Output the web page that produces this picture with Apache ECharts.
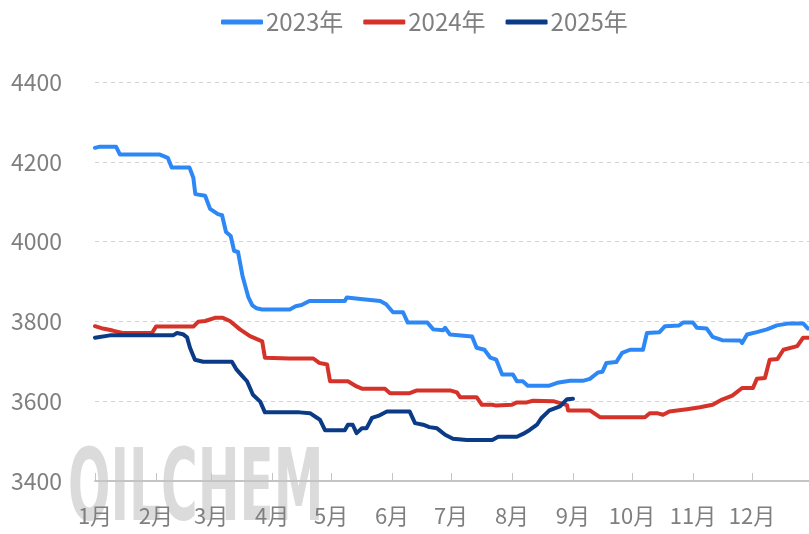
<!DOCTYPE html>
<html>
<head>
<meta charset="utf-8">
<script src="https://cdn.jsdelivr.net/npm/echarts@6/dist/echarts.min.js"></script>
<style>
  html, body { margin: 0; padding: 0; background: #fff; }
  #chart { width: 809px; height: 534px; }
</style>
</head>
<body>
<div id="chart"></div>
<script>
// 月份刻度（按年内天数）
const monthStarts = [0, 31, 59, 90, 120, 151, 181, 212, 243, 273, 304, 334];
const monthLabels = ['1月', '2月', '3月', '4月', '5月', '6月', '7月', '8月', '9月', '10月', '11月', '12月'];
const yearNames = ['2023年', '2024年', '2025年'];

// [年内天数, 价格]
const data2023 = [
  [0, 4235], [2.5, 4238], [10.7, 4238], [12.7, 4218], [33, 4218], [37, 4210], [39, 4186], [48, 4186],
  [50, 4160], [51, 4119], [56, 4115], [58.5, 4082], [62.5, 4069], [64.6, 4066], [66.6, 4024], [69, 4014],
  [70.7, 3977], [72.7, 3974], [75, 3914], [78, 3860], [80, 3840], [82, 3833], [85, 3830], [99, 3830],
  [102, 3838], [105, 3841], [109, 3851], [127, 3851], [128, 3860], [135, 3856], [145, 3851], [148, 3843],
  [151.5, 3823], [156.6, 3823], [159, 3797], [169, 3797], [172, 3780], [177, 3778], [178, 3784], [180.5, 3767],
  [191.7, 3762], [194, 3734], [198, 3729], [201, 3709], [204, 3704], [207, 3667], [212.5, 3667], [214.5, 3650],
  [217.5, 3650], [220, 3639], [231, 3639], [235, 3646], [241.5, 3651], [248, 3651], [249, 3648], [251.6, 3656],
  [255.7, 3672], [258, 3674], [260, 3696], [265, 3698], [268, 3721], [272, 3729], [278.6, 3729], [280.6, 3771],
  [287, 3773], [289.8, 3788], [297, 3790], [299, 3797], [304, 3797], [306, 3784], [311, 3782], [314, 3761],
  [318.8, 3753], [328, 3752], [329, 3746], [331.5, 3767], [336.5, 3773], [341.6, 3780], [346.7, 3790],
  [353, 3795], [360, 3795], [362.5, 3782]
];
const data2024 = [
  [0, 3788], [4, 3782], [9, 3777], [14, 3771], [29, 3771], [31, 3787], [50, 3787], [52.4, 3799],
  [56, 3801], [61, 3809], [65, 3809], [68.6, 3801], [73.7, 3780], [78.8, 3763], [85, 3750], [86.4, 3709],
  [99, 3707], [111, 3707], [114, 3696], [118, 3692], [119.5, 3650], [128.6, 3650], [133, 3637], [136, 3631],
  [147.4, 3631], [150, 3620], [160, 3620], [163.7, 3627], [180.5, 3627], [184, 3622], [185.6, 3610], [194, 3610],
  [196.7, 3591], [202, 3591], [204, 3589], [212, 3591], [214.5, 3597], [219.5, 3597], [222.7, 3601], [233, 3600],
  [236.4, 3595], [240, 3590], [240.5, 3577], [251.6, 3577], [256.7, 3560], [279.6, 3560], [282, 3570],
  [285.7, 3570], [288.8, 3566], [292, 3574], [301, 3580], [307.6, 3585], [314, 3591], [318.8, 3604],
  [324, 3614], [329, 3633], [334.5, 3633], [336.5, 3656], [340.6, 3658], [343, 3704], [347, 3706],
  [350, 3729], [357, 3738], [360, 3759], [363, 3759]
];
const data2025 = [
  [0, 3759], [7.6, 3765], [39.7, 3765], [41.7, 3771], [44.7, 3768], [46.8, 3760], [48.3, 3734], [50.8, 3704],
  [55, 3699], [69.6, 3699], [72, 3679], [74.7, 3664], [77.3, 3650], [80.3, 3616], [84, 3599], [86.4, 3572],
  [104, 3572], [109.3, 3570], [113, 3558], [114.4, 3553], [117, 3527], [127, 3527], [128.6, 3541], [131, 3541],
  [133, 3520], [135.7, 3532], [138, 3532], [140.8, 3558], [144, 3563], [148.4, 3574], [160, 3574], [162.7, 3545],
  [166.8, 3541], [170, 3535], [173.9, 3532], [178, 3516], [182, 3506], [189, 3503], [202, 3503], [205, 3511],
  [214.5, 3511], [217.6, 3518], [221, 3528], [224.7, 3541], [227, 3558], [231, 3577], [236.4, 3587],
  [240, 3605], [243, 3606]
];

const seriesColors = ['#2d88f6', '#d5332a', '#0b3b87'];
const FONT = '"Noto Sans CJK SC", "Open Sans", sans-serif';
const labelGray = '#7f7f7f';

const chart = echarts.init(document.getElementById('chart'), null, { renderer: 'canvas' });

const allData = [data2023, data2024, data2025];

chart.setOption({
  animation: false,
  color: seriesColors,
  textStyle: { fontFamily: FONT },
  legend: {
    top: 5,
    left: 216,
    itemWidth: 42,
    itemHeight: 5,
    itemGap: 20,
    icon: 'roundRect',
    textStyle: { fontSize: 24, color: labelGray, fontFamily: FONT, padding: [0, 0, 0, -2] },
    data: yearNames,
  },
  grid: { left: 95, right: 0, top: 82, bottom: 53, containLabel: false },
  xAxis: {
    type: 'value',
    min: 0,
    max: 363,
    splitLine: { show: false },
    axisLine: { lineStyle: { color: '#c4c4c4', width: 2 } },
    axisTick: {
      show: true,
      inside: true,
      length: 8,
      customValues: monthStarts,
      lineStyle: { color: '#c4c4c4', width: 1 },
    },
    axisLabel: {
      customValues: monthStarts,
      margin: 24,
      fontSize: 22,
      color: labelGray,
      fontFamily: FONT,
      formatter: v => monthLabels[monthStarts.indexOf(v)] || '',
    },
  },
  yAxis: {
    type: 'value',
    min: 3400,
    max: 4400,
    interval: 200,
    axisLine: { show: false },
    axisTick: { show: false },
    axisLabel: {
      fontSize: 23,
      color: labelGray,
      fontFamily: FONT,
      margin: 33,
      formatter: v => String(v),
    },
    splitLine: { lineStyle: { color: '#d3d3d3', type: [4, 4], width: 1 } },
  },
  // 水印
  graphic: [{
    type: 'text',
    x: 68,
    y: 444,
    scaleX: 0.5,
    z: -1,
    silent: true,
    style: {
      text: 'OILCHEM',
      font: 'bold 100px "DejaVu Sans"',
      fill: '#d2d2d2',
      opacity: 0.8,
      verticalAlign: 'top',
    },
  }],
  series: yearNames.map((name, i) => ({
    name,
    type: 'line',
    showSymbol: false,
    smooth: false,
    data: allData[i],
    lineStyle: { width: 4, color: seriesColors[i], cap: 'round', join: 'round' },
    itemStyle: { color: seriesColors[i] },
    z: 3 + i,
  })),
});
</script>
</body>
</html>
